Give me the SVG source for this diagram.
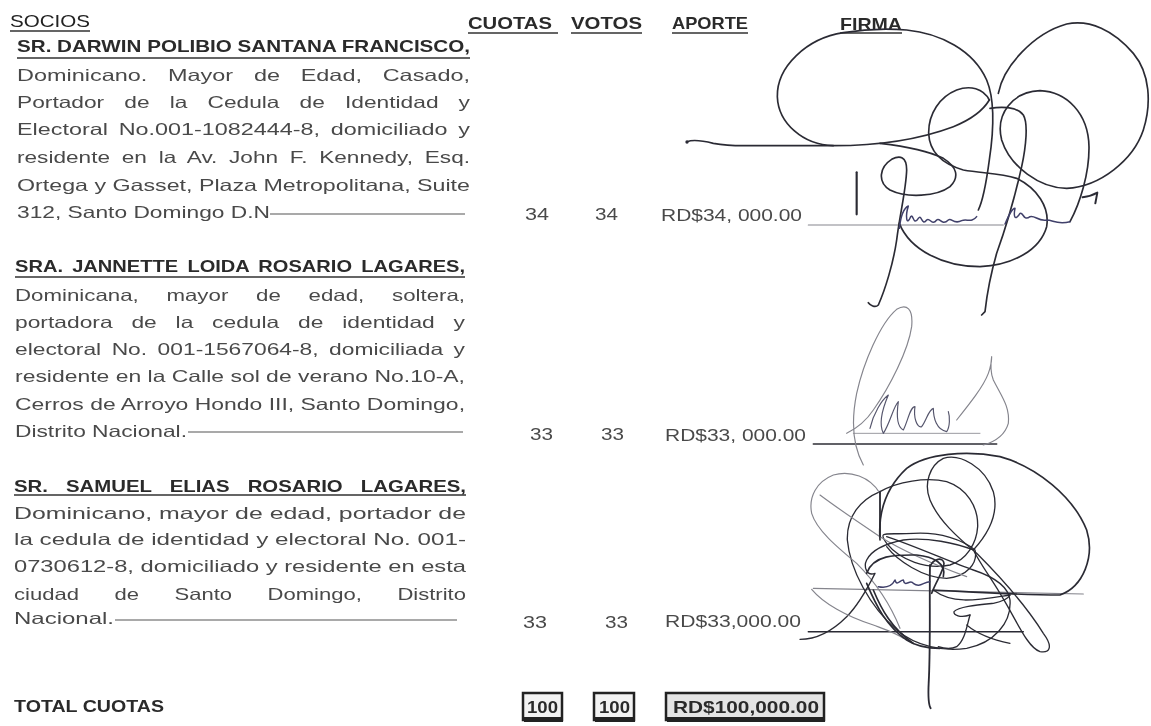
<svg xmlns="http://www.w3.org/2000/svg" width="1151" height="726" viewBox="0 0 1151 726">
<style>
text{font-family:"Liberation Sans",Arial,sans-serif;fill:#4a4a4a;font-size:16.5px}
.b{font-weight:700;fill:#2b2b2b}
.u{stroke:#333;stroke-width:1.6;fill:none}
.r{stroke:#555;stroke-width:1.2;fill:none}
.s{fill:none;stroke:#2c2c34;stroke-width:5;stroke-linecap:round;stroke-linejoin:round}
.t{fill:none;stroke:#85858d;stroke-width:3.5;stroke-linecap:round;stroke-linejoin:round}
.m{fill:none;stroke:#40406a;stroke-width:4.5;stroke-linecap:round;stroke-linejoin:round}
.box{fill:#e4e4e4;stroke:#222;stroke-width:2.5}
</style>
<defs><filter id="f" x="-2%" y="-2%" width="104%" height="104%"><feGaussianBlur stdDeviation="0.5"/></filter></defs>
<rect width="1151" height="726" fill="#fff"/>
<g id="texto" filter="url(#f)">
<g id="encabezado">
<text class="b" x="10" y="27" textLength="80" lengthAdjust="spacingAndGlyphs" style="font-weight:400;fill:#222">SOCIOS</text><line class="u" x1="10" y1="31" x2="90" y2="31"/>
<text class="b" x="468" y="29" textLength="84" lengthAdjust="spacingAndGlyphs">CUOTAS</text><line class="u" x1="468" y1="33" x2="558" y2="33"/>
<text class="b" x="571" y="29" textLength="71" lengthAdjust="spacingAndGlyphs">VOTOS</text><line class="u" x1="571" y1="33" x2="642" y2="33"/>
<text class="b" x="672" y="29" textLength="76" lengthAdjust="spacingAndGlyphs">APORTE</text><line class="u" x1="672" y1="33" x2="748" y2="33"/>
<text class="b" x="840" y="30" textLength="62" lengthAdjust="spacingAndGlyphs">FIRMA</text><line class="u" x1="840" y1="33" x2="902" y2="33"/>
</g>
<g id="socio1">
<text class="b" x="17" y="52" textLength="453" lengthAdjust="spacingAndGlyphs">SR. DARWIN POLIBIO SANTANA FRANCISCO,</text><line class="u" x1="17" y1="58" x2="470" y2="58"/>
<text x="17" y="81" textLength="453" lengthAdjust="spacingAndGlyphs" word-spacing="10">Dominicano. Mayor de Edad, Casado,</text>
<text x="17" y="108" textLength="453" lengthAdjust="spacingAndGlyphs" word-spacing="10">Portador de la Cedula de Identidad y</text>
<text x="17" y="135" textLength="453" lengthAdjust="spacingAndGlyphs" word-spacing="3">Electoral No.001-1082444-8, domiciliado y</text>
<text x="17" y="163" textLength="453" lengthAdjust="spacingAndGlyphs" word-spacing="4">residente en la Av. John F. Kennedy, Esq.</text>
<text x="17" y="191" textLength="453" lengthAdjust="spacingAndGlyphs">Ortega y Gasset, Plaza Metropolitana, Suite</text>
<text x="17" y="218" textLength="253" lengthAdjust="spacingAndGlyphs">312, Santo Domingo D.N</text><line class="r" x1="270" y1="214" x2="465" y2="214"/>
<text x="525" y="220" textLength="24" lengthAdjust="spacingAndGlyphs">34</text>
<text x="595" y="220" textLength="23" lengthAdjust="spacingAndGlyphs">34</text>
<text x="661" y="221" textLength="141" lengthAdjust="spacingAndGlyphs">RD$34, 000.00</text>
</g>
<g id="socio2">
<text class="b" x="15" y="272" textLength="450" lengthAdjust="spacingAndGlyphs" word-spacing="3">SRA. JANNETTE LOIDA ROSARIO LAGARES,</text><line class="u" x1="15" y1="277" x2="465" y2="277"/>
<text x="15" y="301" textLength="450" lengthAdjust="spacingAndGlyphs" word-spacing="16">Dominicana, mayor de edad, soltera,</text>
<text x="15" y="328" textLength="450" lengthAdjust="spacingAndGlyphs" word-spacing="9">portadora de la cedula de identidad y</text>
<text x="15" y="355" textLength="450" lengthAdjust="spacingAndGlyphs" word-spacing="3">electoral No. 001-1567064-8, domiciliada y</text>
<text x="15" y="382" textLength="450" lengthAdjust="spacingAndGlyphs">residente en la Calle sol de verano No.10-A,</text>
<text x="15" y="410" textLength="450" lengthAdjust="spacingAndGlyphs">Cerros de Arroyo Hondo III, Santo Domingo,</text>
<text x="15" y="437" textLength="172" lengthAdjust="spacingAndGlyphs">Distrito Nacional.</text><line class="r" x1="188" y1="432" x2="463" y2="432"/>
<text x="530" y="440" textLength="23" lengthAdjust="spacingAndGlyphs">33</text>
<text x="601" y="440" textLength="23" lengthAdjust="spacingAndGlyphs">33</text>
<text x="665" y="441" textLength="141" lengthAdjust="spacingAndGlyphs">RD$33, 000.00</text>
</g>
<g id="socio3">
<text class="b" x="14" y="492" textLength="452" lengthAdjust="spacingAndGlyphs" word-spacing="10">SR. SAMUEL ELIAS ROSARIO LAGARES,</text><line class="u" x1="14" y1="495" x2="466" y2="495"/>
<text x="14" y="519" textLength="452" lengthAdjust="spacingAndGlyphs">Dominicano, mayor de edad, portador de</text>
<text x="14" y="545" textLength="452" lengthAdjust="spacingAndGlyphs">la cedula de identidad y electoral No. 001-</text>
<text x="14" y="572" textLength="452" lengthAdjust="spacingAndGlyphs">0730612-8, domiciliado y residente en esta</text>
<text x="14" y="600" textLength="452" lengthAdjust="spacingAndGlyphs" word-spacing="22">ciudad de Santo Domingo, Distrito</text>
<text x="14" y="624" textLength="100" lengthAdjust="spacingAndGlyphs">Nacional.</text><line class="r" x1="115" y1="620" x2="457" y2="620"/>
<text x="523" y="628" textLength="24" lengthAdjust="spacingAndGlyphs">33</text>
<text x="605" y="628" textLength="23" lengthAdjust="spacingAndGlyphs">33</text>
<text x="665" y="627" textLength="136" lengthAdjust="spacingAndGlyphs">RD$33,000.00</text>
</g>
<g id="total">
<text class="b" x="14" y="712" textLength="150" lengthAdjust="spacingAndGlyphs">TOTAL CUOTAS</text>
<rect class="box" x="523" y="693" width="39" height="27" style="fill:#f2f2f2"/><rect x="524" y="717" width="39" height="5" fill="#222"/>
<text class="b" x="527" y="713" textLength="31" lengthAdjust="spacingAndGlyphs">100</text>
<rect class="box" x="594" y="693" width="40" height="27" style="fill:#f2f2f2"/><rect x="595" y="717" width="40" height="5" fill="#222"/>
<text class="b" x="599" y="713" textLength="31" lengthAdjust="spacingAndGlyphs">100</text>
<rect class="box" x="666" y="693" width="158" height="27"/><rect x="667" y="717" width="158" height="5" fill="#222"/>
<text class="b" x="673" y="713" textLength="146" lengthAdjust="spacingAndGlyphs">RD$100,000.00</text>
</g>
</g>
<g id="firma1" transform="translate(700,0) scale(.33333)" filter="url(#f)">
<path class="t" d="M325 675H910"/>
<path class="s" d="M-39 425C-20 418 0 420 40 430C80 437 100 437 130 437H400C520 437 640 425 760 380C810 360 850 330 868 300"/>
<circle cx="-39" cy="426" r="5" fill="#2c2c34"/>
<path class="s" d="M400 437C310 435 235 370 232 290C230 200 320 115 430 98C490 88 560 85 620 90C720 100 820 150 860 240C885 300 880 400 868 480C860 540 850 600 835 630"/>
<path class="s" d="M868 300C850 265 810 255 770 270C720 290 685 340 686 400C688 450 720 490 790 510C850 520 900 520 950 535C1010 565 1050 620 1040 680C1020 750 940 795 840 800C730 800 630 750 598 670"/>
<path class="s" d="M540 430C610 438 680 450 730 475C770 500 780 530 750 560C710 590 620 595 570 570C530 545 540 500 575 478C600 465 620 470 620 510C618 570 600 640 590 720C580 790 555 870 535 915C525 925 510 915 505 908"/>
<path class="s" d="M870 325C900 320 950 318 970 345C985 370 978 440 965 500C945 590 915 690 890 760C870 830 860 890 855 935L845 945"/>
<path class="s" d="M895 280C910 200 1000 100 1100 72C1170 58 1240 90 1300 160C1350 220 1355 310 1330 390C1300 480 1200 560 1100 565C1020 565 930 500 905 420C885 340 940 275 1020 272C1100 275 1165 340 1167 440C1168 520 1140 610 1110 665"/>
<path class="s" d="M470 517V643" style="stroke-width:6.5"/>
<path class="s" d="M1148 592C1165 590 1180 585 1192 578L1186 610" style="stroke-width:6"/>
<path class="m" d="M598 685C602 650 610 625 625 618C615 650 620 680 632 650C640 640 640 680 655 655C665 640 665 680 680 660C690 650 695 680 710 660C720 650 725 680 745 660C755 652 760 675 785 662C800 655 815 670 830 650"/>
<path class="m" d="M915 672C925 650 935 625 945 625C940 650 945 665 960 640C970 635 970 665 990 650C1005 645 1015 665 1040 660C1060 660 1070 675 1110 665"/>
</g>
<g id="firma2" transform="translate(700,300) scale(.33333)" filter="url(#f)">
<path class="s" d="M340 432H890" style="stroke-width:4.5"/>
<path class="t" d="M460 400H840" style="stroke-width:2.5"/>
<path class="t" d="M490 495C465 450 450 380 470 280C490 190 540 70 590 28C620 10 640 25 635 80C625 150 570 260 520 330C500 360 470 385 440 400"/>
<path class="m" d="M510 385C520 340 545 300 565 285C550 320 535 370 550 400C570 370 580 320 595 305C590 340 590 380 610 390C625 360 630 320 645 320C640 350 650 385 665 380C680 360 685 330 700 325C700 355 710 390 740 395C750 380 750 350 745 335" style="stroke:#55556c;stroke-width:3.5"/>
<path class="t" d="M770 360C810 310 850 260 865 220C872 200 875 180 875 170C872 190 870 215 880 240C905 290 930 320 925 370C915 405 885 425 850 435"/>
</g>
<g id="firma3" transform="translate(700,300) scale(.33333)" filter="url(#f)">
<path class="t" d="M340 865L1150 882"/>
<path class="s" d="M325 995H970" style="stroke-width:4.5"/>
<path class="s" d="M700 870C800 875 950 885 1080 885C1150 860 1185 770 1160 690C1120 590 1010 500 900 470C800 450 680 460 620 505C550 570 535 650 540 720"/>
<path class="s" d="M820 750C875 690 895 630 880 575C855 500 780 460 730 475C690 495 670 550 690 600C715 660 770 710 830 760C900 830 980 920 1030 1000C1060 1040 1050 1060 1020 1055C980 1040 950 960 900 880C870 830 840 790 820 750" style="stroke-width:4"/>
<path class="s" d="M540 575C590 545 680 530 740 545C800 565 835 620 833 680C830 730 800 780 750 795C680 810 600 780 560 730C530 690 560 705 640 700C720 695 790 720 825 750C835 790 800 830 740 835C670 835 590 780 560 740" style="stroke-width:4"/>
<path class="s" d="M540 575C480 600 440 650 442 720C450 810 510 920 590 990C650 1040 730 1055 800 1045C880 1030 935 970 930 900C925 860 880 830 820 810C760 790 650 740 560 710" style="stroke-width:4"/>
<path class="t" d="M540 580C510 530 450 510 400 525C350 545 325 590 335 640C350 690 410 740 470 790C520 840 570 910 600 985"/>
<path class="t" d="M360 585C420 630 480 670 540 710C620 760 720 800 800 830"/>
<path class="s" d="M300 1018C350 1018 400 990 440 950C470 920 500 870 525 820C500 830 490 800 500 780C515 750 560 730 610 720C680 710 770 730 820 750" style="stroke-width:4"/>
<path class="t" d="M335 868C370 910 440 950 520 975C560 990 590 1000 610 1015"/>
<path class="s" d="M540 575V710" style="stroke-width:5.5"/>
<path class="s" d="M500 850C530 920 560 980 620 1020C650 1040 680 1045 720 1045M500 820C520 760 600 765 650 765C700 770 740 790 730 830"/>
<path class="s" d="M520 870C545 930 575 985 640 1030"/>
<path class="s" d="M690 795C688 900 692 1040 686 1150C684 1190 686 1215 692 1225" style="stroke-width:5.5"/>
<path class="s" d="M690 800C700 775 730 770 732 790C730 815 710 840 695 880"/>
<path class="m" d="M535 860C560 865 575 860 585 840C590 860 600 840 610 840C615 865 630 835 640 850C660 865 670 845 690 845"/>
<path class="s" d="M700 870C760 915 830 900 930 885" style="stroke-width:4"/>
<path class="s" d="M810 945C780 955 760 945 762 935C775 920 830 915 880 910C905 905 925 895 930 885" style="stroke-width:4"/>
<path class="s" d="M810 945C800 980 795 1020 770 1040C750 1050 730 1045 715 1040" style="stroke-width:4"/>
<path class="s" d="M800 975C830 1000 880 1020 930 1030" style="stroke-width:3.5"/>
</g>
</svg>
